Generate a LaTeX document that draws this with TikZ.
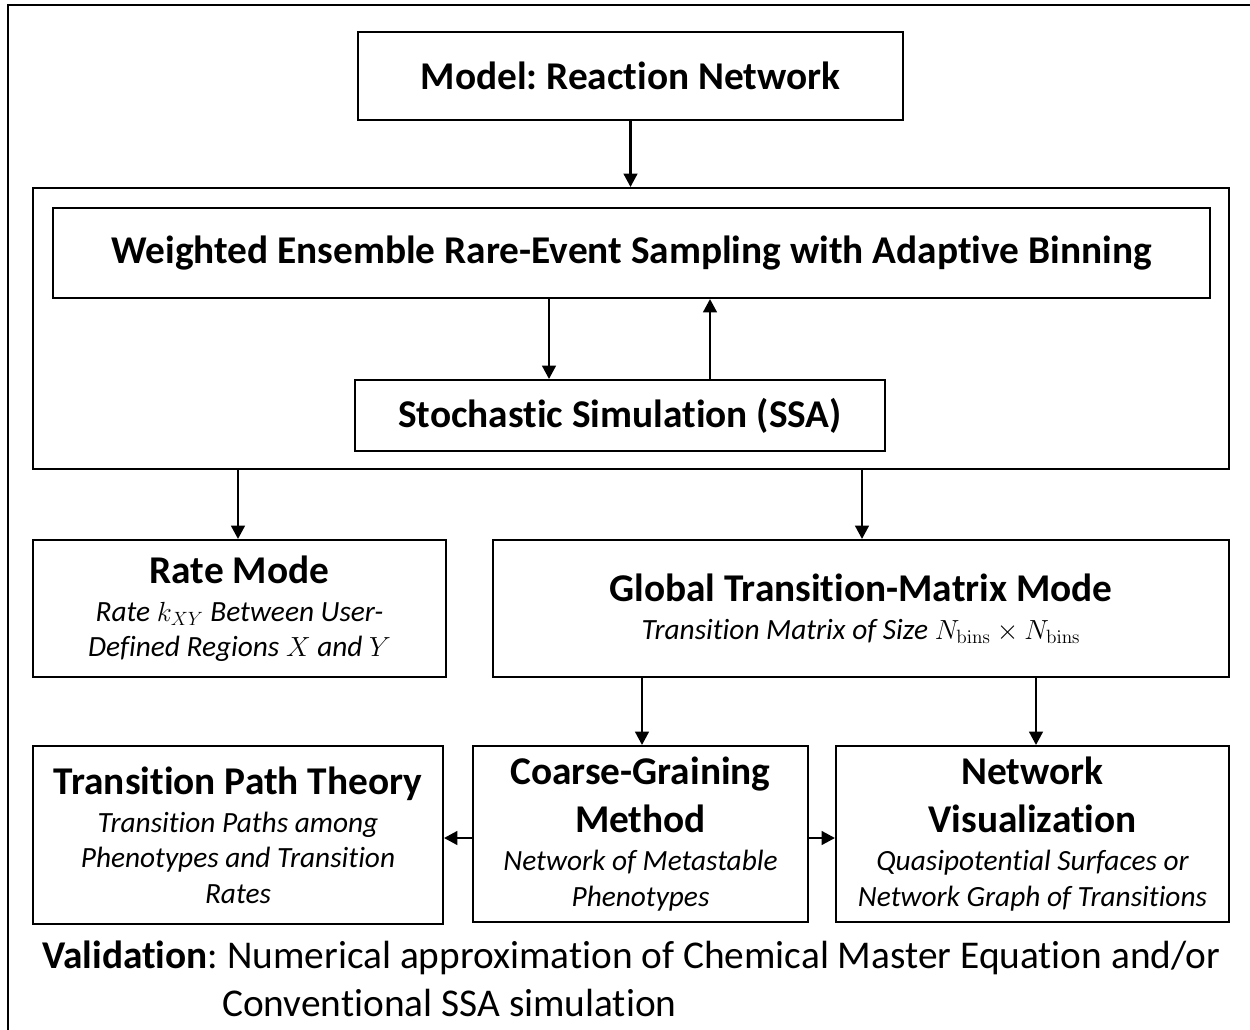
\documentclass[tikz,border=0pt]{standalone}
\usepackage[no-math]{fontspec}
\setmainfont{Carlito}[RawFeature=-liga]
\frenchspacing
\usetikzlibrary{arrows.meta}
\newcommand\TitleFont{\fontsize{29.5}{36}\selectfont\bfseries\spaceskip=0pt\xspaceskip=0pt\relax}
\newcommand\SubFont{\fontsize{22}{26.5}\selectfont\itshape\spaceskip=0pt\xspaceskip=0pt\relax}
\newcommand\ValFont{\fontsize{29.5}{34}\selectfont}
\newcommand\EndGap{\par\vspace{-2pt}}
\begin{document}
\begin{tikzpicture}[x=0.75pt,y=-0.75pt,
  box/.style={draw, line width=1.4pt, inner sep=0pt, align=center},
  tbox/.style={draw, line width=1.4pt, inner sep=0pt, text width=#1, align=flush center},
  arr/.style={line width=2.2pt, -{Triangle[length=10pt,width=10pt]}}]
\useasboundingbox (0,0) rectangle (1250,1029);
\fill[white] (0,0) rectangle (1250,1029);
% outer frame (cut by the page on the right and bottom)
\draw[line width=2pt] (8,1040) -- (8,5) -- (1260,5);

\node[box, minimum width=408.75pt, minimum height=66pt] (model) at (630.5,76)
  {\TitleFont Model: Reaction Network};
\node[box, minimum width=897pt, minimum height=210.75pt] (cont) at (631,328.5) {};
\node[box, minimum width=867.75pt, minimum height=67.5pt] (we) at (631.5,253)
  {\TitleFont Weighted Ensemble Rare-Event Sampling with Adaptive Binning};
\node[box, minimum width=397.5pt, minimum height=53.25pt] (ssa) at (620,415.5)
  {\TitleFont Stochastic Simulation (SSA)};
\node[tbox=305pt, minimum width=309.75pt, minimum height=102.75pt] (rate) at (239.5,608.5)
  {{\TitleFont Rate Mode\par}\vspace{2pt}
   {\SubFont Rate $k_{XY}$ Between User-\\Defined Regions $X$ and $Y$\par}\EndGap};
\node[tbox=545pt, minimum width=552pt, minimum height=102.75pt] (glob) at (861,608.5)
  {{\TitleFont Global Transition-Matrix Mode\par}\vspace{2pt}
   {\SubFont Transition Matrix of Size $N_{\mathrm{bins}}\times N_{\mathrm{bins}}$\par}\EndGap};
\node[tbox=303pt, minimum width=307.5pt, minimum height=133.5pt] (tpt) at (238,835)
  {{\TitleFont Transition Path Theory\par}\vspace{2pt}
   {\SubFont Transition Paths among\\Phenotypes and Transition\\Rates\par}\EndGap};
\node[tbox=247pt, minimum width=251.25pt, minimum height=132pt] (cg) at (640.5,834)
  {{\TitleFont Coarse-Graining\\Method\par}\vspace{2pt}
   {\SubFont Network of Metastable\\Phenotypes\par}\EndGap};
\node[tbox=292pt, minimum width=294.75pt, minimum height=132pt] (nv) at (1032.5,834)
  {{\TitleFont Network\\Visualization\par}\vspace{2pt}
   {\SubFont Quasipotential Surfaces or\\Network Graph of Transitions\par}\EndGap};

\node[anchor=west, inner sep=0pt] (val1) at (42,958)
  {\ValFont\textbf{Validation}: Numerical approximation of Chemical Master Equation and/or};
\node[anchor=west, inner sep=0pt] (val2) at (222,1003)
  {\ValFont Conventional SSA simulation};

\coordinate (xa) at (549,0);
\coordinate (xb) at (710,0);
\coordinate (xc) at (238,0);
\coordinate (xd) at (862,0);
\coordinate (xe) at (642,0);
\coordinate (xf) at (1036,0);
\coordinate (yh) at (0,838);

\draw[arr] (model.south) -- (model.south |- cont.north);
\draw[arr] (xa |- we.south) -- (xa |- ssa.north);
\draw[arr] (xb |- ssa.north) -- (xb |- we.south);
\draw[arr] (xc |- cont.south) -- (xc |- rate.north);
\draw[arr] (xd |- cont.south) -- (xd |- glob.north);
\draw[arr] (xe |- glob.south) -- (xe |- cg.north);
\draw[arr] (xf |- glob.south) -- (xf |- nv.north);
\draw[arr] (cg.west |- yh) -- (tpt.east |- yh);
\draw[arr] (cg.east |- yh) -- (nv.west |- yh);
\end{tikzpicture}
\end{document}
